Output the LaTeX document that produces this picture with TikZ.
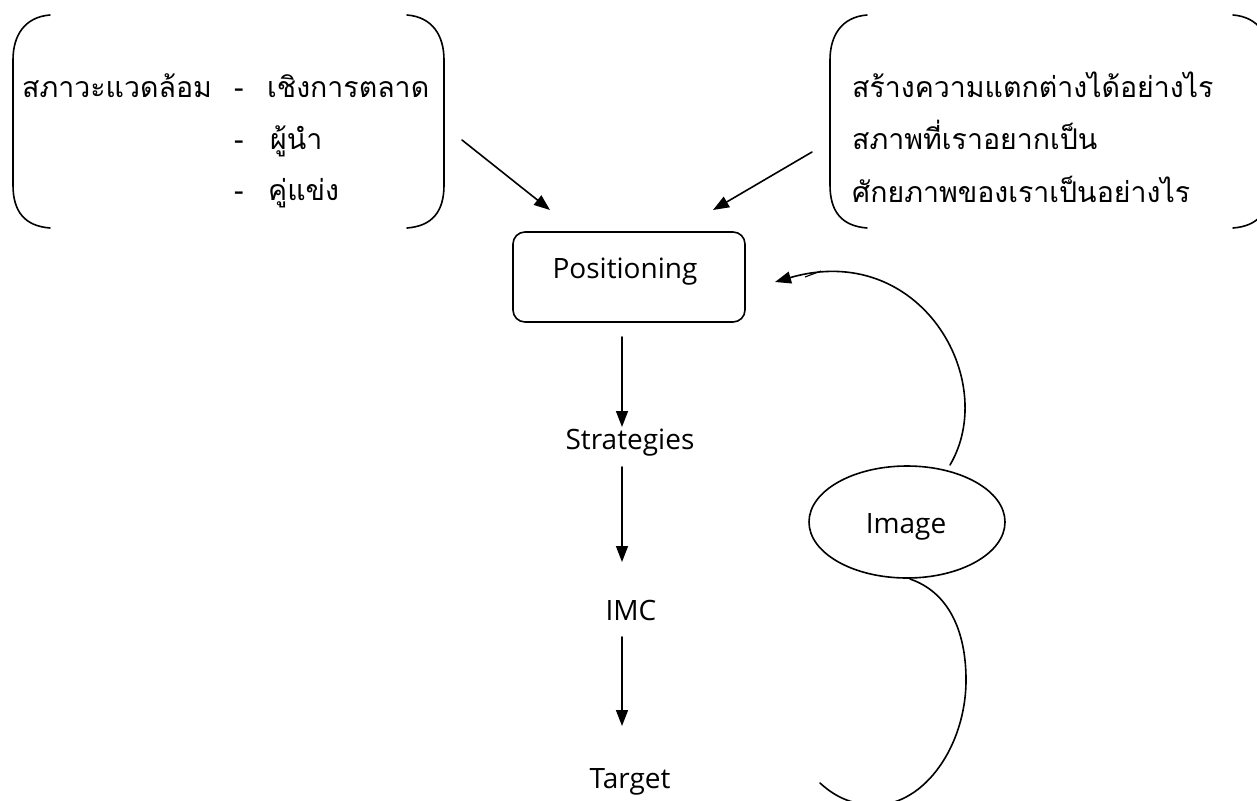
\documentclass[tikz,border=0pt]{standalone}
\usepackage{fontspec}
\setmainfont{Open Sans}
\newfontfamily\thaifont[Script=Thai]{Loma}
\usetikzlibrary{arrows.meta,shapes.geometric}
\tikzset{
  ln/.style={line width=1.6pt, line cap=round},
  arr/.style={ln, -{Triangle[length=16pt,width=12pt]}},
  th/.style={font=\thaifont\fontsize{28.5}{32}\selectfont, inner sep=0pt, anchor=base west},
  lat/.style={font=\fontsize{28}{32}\selectfont, inner sep=0pt},
  posbox/.style={draw, ln, rounded corners=12pt, minimum width=232pt, minimum height=90pt}
}
\begin{document}
\begin{tikzpicture}[x=1pt,y=-1pt]
\useasboundingbox (0,0) rectangle (1257,800);
\clip (0,0) rectangle (1257,800);
% left group
\draw[ln] (50,15) .. controls (25,17) and (13,35) .. (13,60) -- (13,185) .. controls (13,212) and (25,226) .. (50,228);
\draw[ln] (407,15) .. controls (432,17) and (444,35) .. (444,60) -- (444,185) .. controls (444,212) and (432,226) .. (407,228);
\node[th] (env) at (22,97) {สภาวะแวดล้อม};
\node[th] (d1) at (234,97) {-};
\node[th] (mk) at (267,97) {เชิงการตลาด};
\node[th] (d2) at (234,149) {-};
\node[th] (ld) at (270,149) {ผู้นำ};
\node[th] (d3) at (234,200) {-};
\node[th] (cp) at (268,200) {คู่แข่ง};
% right group
\draw[ln] (867,15) .. controls (842,17) and (830,35) .. (830,60) -- (830,185) .. controls (830,212) and (842,226) .. (867,228);
\draw[ln] (1233,15) .. controls (1258,17) and (1270,35) .. (1270,60) -- (1270,185) .. controls (1270,212) and (1258,226) .. (1233,228);
\node[th] (r1) at (852,97) {สร้างความแตกต่างได้อย่างไร};
\node[th] (r2) at (852,149) {สภาพที่เราอยากเป็น};
\node[th] (r3) at (852,202) {ศักยภาพของเราเป็นอย่างไร};
% main chain
\node[posbox] (pos) at (629,277) {};
\node[lat] (post) at (625,272) {Positioning};
\node[lat] (str) at (630,443) {Strategies};
\node[lat] (imc) at (631,610) {IMC};
\node[lat] (tgt) at (630,782) {Target};
\node[draw, ln, ellipse, minimum width=196pt, minimum height=112pt] (img) at (907,522) {};
\node[lat] (imgt) at (906,527) {Image};
% connectors
\coordinate (la) at (462,140);
\coordinate (lb) at (550,210);
\coordinate (ra) at (812,152);
\coordinate (rb) at (713,210);
\draw[arr] (la) -- (lb);
\draw[arr] (ra) -- (rb);
\coordinate (a1) at (622,337);
\coordinate (a2) at (622,427);
\coordinate (b1) at (622,467);
\coordinate (b2) at (622,562);
\coordinate (c1) at (622,637);
\coordinate (c2) at (622,726);
\draw[arr] (a1) -- (a2);
\draw[arr] (b1) -- (b2);
\draw[arr] (c1) -- (c2);
\coordinate (u0) at (950,465);
\coordinate (u1) at (775,282);
\draw[arr] (u0) .. controls (1000,380) and (920,240) .. (u1);
\draw[line width=1.1pt] (805,277) -- (821,271);
\coordinate (w0) at (910,579);
\coordinate (w1) at (820,783);
\draw[ln] (w0) .. controls (948,592) and (966,630) .. (966,680) .. controls (966,745) and (925,805) .. (875,805) .. controls (850,805) and (833,795) .. (w1);
\end{tikzpicture}
\end{document}
